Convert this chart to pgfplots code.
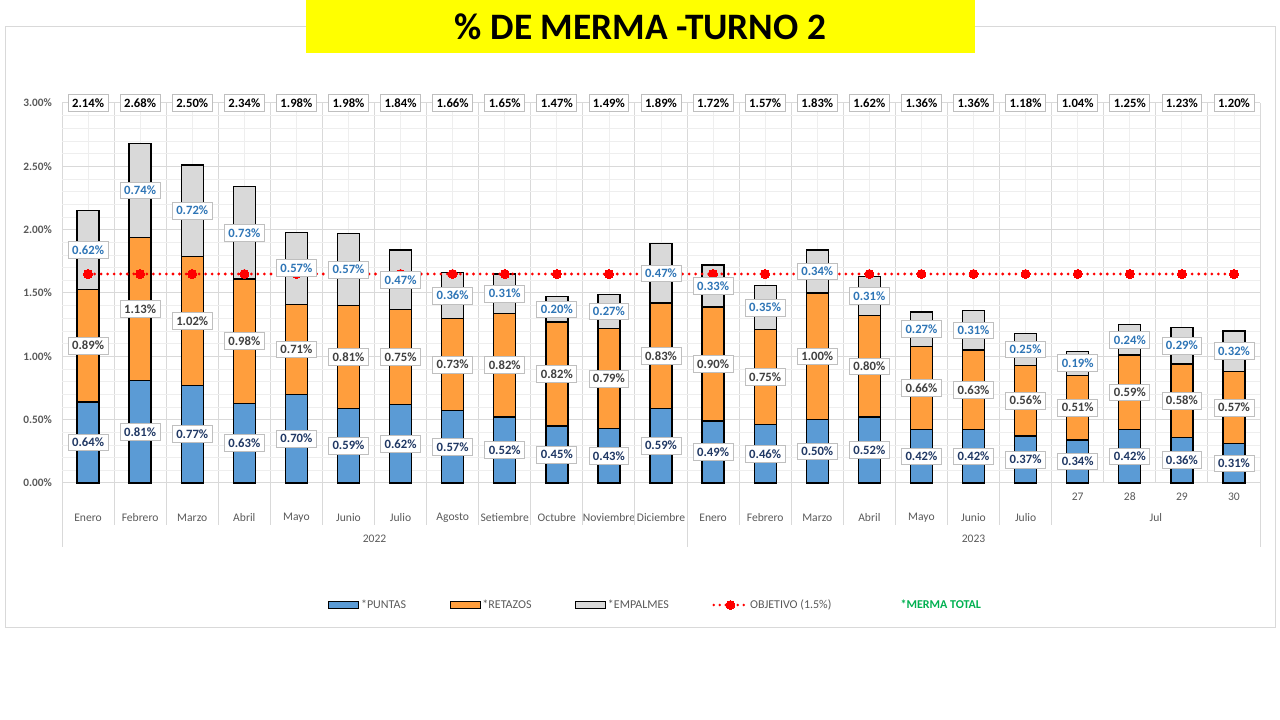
\documentclass[border=0pt]{standalone}
\usepackage{pgfplots}
\pgfplotsset{compat=1.18}
\usepackage{pgfplotstable}
\usepackage{fontspec}
\setmainfont{Carlito}
\definecolor{cblue}{HTML}{5B9BD5}
\definecolor{corange}{HTML}{FF9E3D}
\definecolor{cgray}{HTML}{D9D9D9}
\definecolor{gridmaj}{HTML}{D9D9D9}
\definecolor{gridmin}{HTML}{EEEEEE}
\definecolor{txtgray}{HTML}{595959}
\definecolor{lblnavy}{HTML}{203864}
\definecolor{lblblue}{HTML}{2E75B6}
\definecolor{lbldark}{HTML}{404040}
\definecolor{mgreen}{HTML}{00B050}
\definecolor{ttlyellow}{HTML}{FFFF00}
\pgfkeys{/pgf/number format/assume math mode=true}

\pgfplotsset{
  boxleg/.style={legend image code/.code={\draw[##1] (0pt,-2.6pt) rectangle (22.5pt,2.6pt);}},
  redleg/.style={legend image code/.code={\draw[mark repeat=2,mark phase=2,##1] plot coordinates {(0pt,0pt) (12.5pt,0pt) (25pt,0pt)};}},
}

\pgfplotstableread{
x p r e t o
0 0.64 0.89 0.62 2.14 1.65
1 0.81 1.13 0.74 2.68 1.65
2 0.77 1.02 0.72 2.50 1.65
3 0.63 0.98 0.73 2.34 1.65
4 0.70 0.71 0.57 1.98 1.65
5 0.59 0.81 0.57 1.98 1.65
6 0.62 0.75 0.47 1.84 1.65
7 0.57 0.73 0.36 1.66 1.65
8 0.52 0.82 0.31 1.65 1.65
9 0.45 0.82 0.20 1.47 1.65
10 0.43 0.79 0.27 1.49 1.65
11 0.59 0.83 0.47 1.89 1.65
12 0.49 0.90 0.33 1.72 1.65
13 0.46 0.75 0.35 1.57 1.65
14 0.50 1.00 0.34 1.83 1.65
15 0.52 0.80 0.31 1.62 1.65
16 0.42 0.66 0.27 1.36 1.65
17 0.42 0.63 0.31 1.36 1.65
18 0.37 0.56 0.25 1.18 1.65
19 0.34 0.51 0.19 1.04 1.65
20 0.42 0.59 0.24 1.25 1.65
21 0.36 0.58 0.29 1.23 1.65
22 0.31 0.57 0.32 1.20 1.65
}\data

\tikzset{
  lbl/.style={font=\bfseries\fontsize{9.5}{10}\selectfont, fill=white, draw=black!25, line width=0.6pt, inner xsep=3pt, inner ysep=3pt, anchor=center},
  xlab/.style={font=\fontsize{8.7}{10}\selectfont, text=txtgray, anchor=center},
  sep/.style={draw=gridmaj, line width=0.75pt},
}

\begin{document}
\begin{tikzpicture}
\begin{scope}[x=0.75pt,y=0.75pt]
  \path (0,0) rectangle (1280,720);
  \draw[gridmaj, line width=0.75pt] (5,92) rectangle (1275,693);
\end{scope}

\begin{axis}[
  at={(46.5pt,177.75pt)}, anchor=south west,
  scale only axis, width=898.5pt, height=285pt,
  xmin=-0.5, xmax=22.5, ymin=0, ymax=3,
  xtick={-0.5,0.5,...,22.5}, minor x tick num=1,
  ytick={0,0.5,...,3}, minor y tick num=4,
  xticklabels={},
  grid=both,
  major grid style={gridmaj, line width=0.75pt},
  minor grid style={gridmin, line width=0.6pt},
  major tick length=0pt, minor tick length=0pt,
  axis line style={draw=none},
  clip=false,
  yticklabel={\pgfmathprintnumber[fixed,fixed zerofill,precision=2]{\tick}\%},
  yticklabel style={font=\bfseries\fontsize{8.5}{10}\selectfont, text=txtgray, xshift=-4pt},
  legend columns=5,
  legend cell align=left,
  legend style={at={(0.222,-0.321)}, anchor=west, draw=none, fill=none,
    font=\fontsize{9}{10}\selectfont, text=txtgray, inner sep=0pt,
    nodes={inner sep=1.2pt},
    /tikz/every even column/.append style={column sep=31.5pt}},
]
% bars (drawn from zero, largest first, so they read as stacked)
\addplot[ybar, bar width=16.5pt, bar shift=0pt, fill=cgray, draw=black, line width=1pt, forget plot]
  table[x=x, y expr=\thisrow{p}+\thisrow{r}+\thisrow{e}]{\data};
\addplot[ybar, bar width=16.5pt, bar shift=0pt, fill=corange, draw=black, line width=1pt, forget plot]
  table[x=x, y expr=\thisrow{p}+\thisrow{r}]{\data};
\addplot[ybar, bar width=16.5pt, bar shift=0pt, fill=cblue, draw=black, line width=1pt, forget plot]
  table[x=x, y=p]{\data};
% objective
\addplot[red, line width=2.3pt, dash pattern=on 0pt off 4.9pt, line cap=round,
  mark=*, mark size=3.4pt, mark options={solid, fill=red, draw=red, line width=0pt}, forget plot]
  table[x=x, y=o]{\data};
% labels
\addplot[draw=none, mark=none, forget plot, point meta=explicit symbolic,
  nodes near coords={\pgfplotspointmeta\%}, nodes near coords style={lbl, text=lblnavy}]
  table[x=x, y expr=\thisrow{p}/2, meta=p]{\data};
\addplot[draw=none, mark=none, forget plot, point meta=explicit symbolic,
  nodes near coords={\pgfplotspointmeta\%}, nodes near coords style={lbl, text=lbldark}]
  table[x=x, y expr=\thisrow{p}+\thisrow{r}/2, meta=r]{\data};
\addplot[draw=none, mark=none, forget plot, point meta=explicit symbolic,
  nodes near coords={\pgfplotspointmeta\%}, nodes near coords style={lbl, text=lblblue}]
  table[x=x, y expr=\thisrow{p}+\thisrow{r}+\thisrow{e}/2, meta=e]{\data};
\addplot[draw=none, mark=none, forget plot, point meta=explicit symbolic,
  nodes near coords={\pgfplotspointmeta\%}, nodes near coords style={lbl, text=black}]
  table[x=x, y expr=3, meta=t]{\data};

% category axis text
\foreach \i/\n in {0/Enero,1/Febrero,2/Marzo,3/Abril,4/Mayo,5/Junio,6/Julio,7/Agosto,8/Setiembre,9/Octubre,10/Noviembre,11/Diciembre,12/Enero,13/Febrero,14/Marzo,15/Abril,16/Mayo,17/Junio,18/Julio}{
  \edef\tmp{\noexpand\node[xlab, yshift=-26.25pt] at (axis cs:\i,0) {\n};}\tmp
}
\foreach \i/\n in {19/27,20/28,21/29,22/30}{
  \edef\tmp{\noexpand\node[xlab, yshift=-10.5pt] at (axis cs:\i,0) {\n};}\tmp
}
\node[xlab, yshift=-26.25pt] at (axis cs:20.5,0) {Jul};
\node[xlab, yshift=-42pt] at (axis cs:5.5,0) {2022};
\node[xlab, yshift=-42pt] at (axis cs:17,0) {2023};
\foreach \x in {0.5,1.5,2.5,3.5,4.5,5.5,6.5,7.5,8.5,9.5,10.5,12.5,13.5,14.5,15.5,16.5,17.5,18.5}{
  \edef\tmp{\noexpand\draw[sep] (axis cs:\x,0) -- ([yshift=-31.5pt]axis cs:\x,0);}\tmp
}
\foreach \x in {-0.5,11.5,22.5}{
  \edef\tmp{\noexpand\draw[sep] (axis cs:\x,0) -- ([yshift=-48pt]axis cs:\x,0);}\tmp
}

% legend
\addlegendimage{boxleg, fill=cblue, draw=black, line width=0.9pt}
\addlegendentry{*PUNTAS}
\addlegendimage{boxleg, fill=corange, draw=black, line width=0.9pt}
\addlegendentry{*RETAZOS}
\addlegendimage{boxleg, fill=cgray, draw=black, line width=0.9pt}
\addlegendentry{*EMPALMES}
\addlegendimage{redleg, red, line width=2pt, dash pattern=on 0pt off 4.5pt, line cap=round, mark=*, mark size=3.3pt, mark options={solid, fill=red, draw=red, line width=0pt}}
\addlegendentry{OBJETIVO (1.5\%)}
\addlegendimage{empty legend}
\addlegendentry{\hspace*{18pt}\textcolor{mgreen}{\bfseries *MERMA TOTAL}}
\end{axis}

\begin{scope}[x=0.75pt,y=0.75pt]
  \fill[ttlyellow] (306,667) rectangle (975,720);
  \node[font=\bfseries\fontsize{28}{32}\selectfont, text=black] at (640.5,693) {\% DE MERMA -TURNO 2};
\end{scope}
\end{tikzpicture}
\end{document}
